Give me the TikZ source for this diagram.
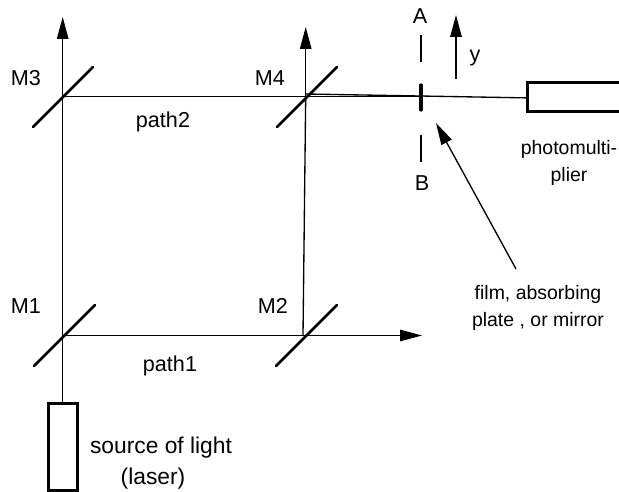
\documentclass[tikz,border=0pt]{standalone}
\usepackage{fontspec}
\setmainfont{Liberation Sans}
\usetikzlibrary{arrows.meta}
\tikzset{
  beam/.style={line width=1pt,black},
  arrowed/.style={beam,-{Triangle[length=16.5pt,width=8.6pt]}},
  mirror/.style={line width=1.9pt,line cap=round},
  box/.style={draw,line width=2.3pt,inner sep=0pt,anchor=north west},
  lbl/.style={font=\fontsize{16.2pt}{23pt}\selectfont,inner sep=0pt,align=center},
  small/.style={lbl,font=\fontsize{14.6pt}{20pt}\selectfont},
  srclbl/.style={lbl,font=\fontsize{17.1pt}{23pt}\selectfont},
  tick/.style={line width=1pt},
  film/.style={line width=2.4pt,line cap=round}
}
\begin{document}
\begin{tikzpicture}[x=0.75pt,y=-0.75pt]
\useasboundingbox (0,0) rectangle (619,492);
\coordinate (M1) at (62.7,335.5);
\coordinate (M2) at (303,335.5);
\coordinate (M3) at (62.7,96.8);
\coordinate (M4) at (305.7,96.8);
\coordinate (top1) at (62.7,17);
\coordinate (top4) at (305.7,27);
\coordinate (right2) at (422,335.5);
\node[box,minimum width=21.75pt,minimum height=65.25pt] (src) at (47,402) {};
\node[box,minimum width=90pt,minimum height=22pt] (pm) at (526,81) {};
\coordinate (pmin) at ([yshift=-0.5pt]pm.west);
\draw[beam] (src.north -| M1) -- (M1);
\draw[arrowed] (M1) -- (top1);
\draw[beam] (M1) -- (M2);
\draw[arrowed] (M2) -- (right2);
\draw[beam] (M2) -- (M4);
\draw[arrowed] (M4) -- (top4);
\draw[beam] (M3) -- (M4);
\draw[beam] (M4) -- (421,96.8);
\draw[beam] (306,94) -- (pmin);
\draw[mirror] (34,366) -- (95,305);
\draw[mirror] (276,366) -- (337,305);
\draw[mirror] (33,127) -- (93,67);
\draw[mirror] (277,127) -- (337,67);
\draw[film] (421,85) -- (421,110);
\draw[tick] (421,35) -- (421,62);
\draw[tick] (421,135) -- (421,162);
\draw[arrowed] (456,79) -- (456,15);
\coordinate (filmtip) at (436,123);
\coordinate (filmtail) at (516,269);
\draw[arrowed] (filmtail) -- (filmtip);
\node[lbl] (lM3) at (26,78) {M3};
\node[lbl] (lM4) at (270,78) {M4};
\node[lbl] (lM1) at (26,306) {M1};
\node[lbl] (lM2) at (273,306) {M2};
\node[lbl] (lp2) at (163,122) {path2};
\node[lbl] (lp1) at (170,366) {path1};
\node[lbl] (lA) at (420,16) {A};
\node[lbl] (lB) at (422,183) {B};
\node[lbl] (ly) at (475,58) {y};
\node[small] (lpm) at (569,163) {photomulti-\\plier};
\node[small] (lfilm) at (538,308) {film, absorbing\\plate , or mirror};
\node[srclbl] (lsrc) at (161,448) {source of light};
\node[srclbl] (llas) at (153,479) {(laser)};
\end{tikzpicture}
\end{document}
